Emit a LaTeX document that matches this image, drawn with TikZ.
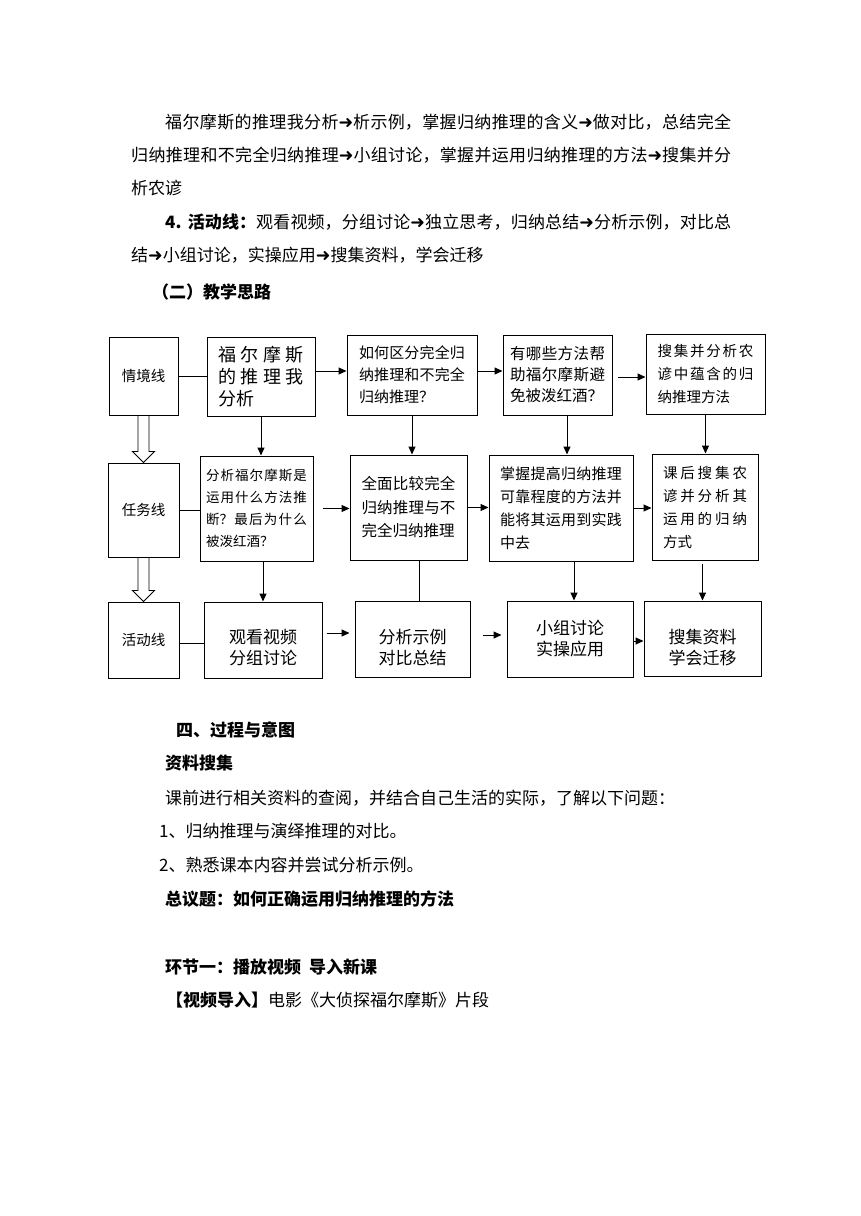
\documentclass[tikz,border=0pt]{standalone}
\usepackage{fontspec}
\setmainfont{Noto Sans CJK SC}
\newfontfamily\symfont{DejaVu Sans}
\usetikzlibrary{arrows.meta, calc}
\XeTeXlinebreaklocale "zh"
\XeTeXlinebreakskip = 0pt plus 1pt
\newcommand{\rarr}{{\symfont\fontsize{17.5}{17}\selectfont ➜}}
\newcommand{\bxfont}[2]{\fontsize{#1}{#2}\selectfont\XeTeXlinebreakskip=0pt plus 8pt\relax}
\newcommand{\jfont}{\fontsize{17}{20}\selectfont\parfillskip=0pt\relax}

\tikzset{
  box/.style={draw, line width=1pt, inner sep=0pt},
  para/.style={text width=#1, align=justify},
  txt/.style={anchor=base west, inner sep=0pt, font=\fontsize{17}{20}\selectfont},
  fullline/.style={txt, para=#1, font=\jfont},
  head/.style={txt, font=\fontsize{17}{20}\selectfont\bfseries},
  arr/.style={->, line width=1pt},
  link/.style={line width=1pt},
  hollow/.style={draw, line width=0.9pt}
}

\begin{document}
\begin{tikzpicture}[x=1pt, y=-1pt, >={Triangle[length=8pt,width=7pt]}]
  \useasboundingbox (0,0) rectangle (860,1216);
  \fill[white] (0,0) rectangle (860,1216);
  % Text above the chart
  \node[fullline=566pt] (l1) at (165,128.5) {\noindent 福尔摩斯的推理我分析\rarr 析示例，掌握归纳推理的含义\rarr 做对比，总结完全};
  \node[fullline=600pt] (l2) at (131,161.5) {\noindent 归纳推理和不完全归纳推理\rarr 小组讨论，掌握并运用归纳推理的方法\rarr 搜集并分};
  \node[txt] (l3) at (131,194.5) {析农谚};
  \node[fullline=566pt] (l4) at (165,228.5) {\noindent{\bfseries 4. 活动线：}观看视频，分组讨论\rarr 独立思考，归纳总结\rarr 分析示例，对比总};
  \node[txt] (l5) at (131,261.5) {结\rarr 小组讨论，实操应用\rarr 搜集资料，学会迁移};
  \node[head] (l6) at (152,298.5) {（二）教学思路};

  % Row 1: situation line
  \node[box, minimum width=69pt, minimum height=78pt, font=\fontsize{14.5}{18}\selectfont] (situ) at (143.5,376) {情境线};
  \node[box, minimum width=108pt, minimum height=79pt, para=86pt, font=\bxfont{18}{22}] (situ1) at (261,376.5) {福尔摩斯的推理我分析};
  \node[box, minimum width=130pt, minimum height=80pt, para=106pt, font=\bxfont{15}{22}] (situ2) at (412,375) {如何区分完全归纳推理和不完全归纳推理？};
  \node[box, minimum width=109pt, minimum height=80pt, para=95pt, font=\bxfont{15.5}{21}] (situ3) at (557.5,375) {有哪些方法帮助福尔摩斯避免被泼红酒？};
  \node[box, minimum width=119pt, minimum height=80pt, para=96pt, font=\bxfont{14.5}{23}] (situ4) at (705.5,374) {搜集并分析农谚中蕴含的归纳推理方法};

  % Row 2: task line
  \node[box, minimum width=71pt, minimum height=94pt, font=\fontsize{14.5}{18}\selectfont] (task) at (143.5,510) {任务线};
  \node[box, minimum width=113pt, minimum height=105pt, para=101pt, font=\bxfont{13.5}{22}] (task1) at (256.5,508.5) {分析福尔摩斯是运用什么方法推断？最后为什么被泼红酒？};
  \node[box, minimum width=117pt, minimum height=105pt, para=94pt, font=\bxfont{15.5}{23.5}] (task2) at (408.5,507.5) {全面比较完全归纳推理与不完全归纳推理};
  \node[box, minimum width=144pt, minimum height=106pt, para=122pt, font=\bxfont{15}{23}] (task3) at (561,508) {掌握提高归纳推理可靠程度的方法并能将其运用到实践中去};
  \node[box, minimum width=106pt, minimum height=106pt, para=84pt, font=\bxfont{14.5}{23}] (task4) at (705,507) {课后搜集农谚并分析其运用的归纳方式};

  % Row 3: activity line
  \node[box, minimum width=71pt, minimum height=76pt, font=\fontsize{14.5}{18}\selectfont] (act) at (143.5,640) {活动线};
  \node[box, minimum width=118pt, minimum height=76pt] (act1) at (263,640) {};
  \node[align=center, font=\fontsize{17}{21}\selectfont] (act1t) at ([yshift=-8pt]act1.center) {观看视频\\分组讨论};
  \node[box, minimum width=115pt, minimum height=76pt] (act2) at (412.5,639) {};
  \node[align=center, font=\fontsize{17}{21}\selectfont] (act2t) at ([yshift=-9pt]act2.center) {分析示例\\对比总结};
  \node[box, minimum width=126pt, minimum height=76pt, align=center, font=\fontsize{17}{21}\selectfont] (act3) at (570,639) {小组讨论\\实操应用};
  \node[box, minimum width=117pt, minimum height=75pt] (act4) at (702.5,638.5) {};
  \node[align=center, font=\fontsize{17}{21}\selectfont] (act4t) at ([yshift=-9pt]act4.center) {搜集资料\\学会迁移};

  % Horizontal links
  \draw[link] (situ.east) -- (situ.east -| situ1.west);
  \draw[arr] ([yshift=5.5pt]situ1.east) -- ([yshift=5.5pt]situ1.east -| situ2.west);
  \draw[arr] ([yshift=4pt]situ2.east) -- ([yshift=4pt]situ2.east -| situ3.west);
  \draw[arr] ([xshift=5pt,yshift=-2pt]situ3.east) -- ([yshift=-2pt]situ3.east -| situ4.west);
  \draw[link] (task.east) -- (task.east -| task1.west);
  \draw[arr] ([xshift=9pt]task1.east) -- (task1.east -| task2.west);
  \draw[arr] (task2.east) -- (task2.east -| task3.west);
  \draw[arr] (task3.east) -- (task3.east -| task4.west);
  \draw[link] ([yshift=-3pt]act.east) -- ([yshift=-3pt]act.east -| act1.west);
  \draw[arr] ([xshift=4pt,yshift=7pt]act1.east) -- ([xshift=-5pt,yshift=7pt]act1.east -| act2.west);
  \draw[arr] ([xshift=12pt,yshift=4pt]act2.east) -- ([xshift=-5pt,yshift=4pt]act2.east -| act3.west);
  \draw[arr] ([yshift=-2pt]act3.east) -- ([yshift=-2pt]act3.east -| act4.west);

  % Vertical links
  \draw[arr] (situ1.south) -- (situ1.south |- task1.north);
  \draw[arr] (situ2.south) -- (situ2.south |- task2.north);
  \draw[arr] ([xshift=9.5pt]situ3.south) -- ([xshift=9.5pt]situ3.south |- task3.north);
  \draw[arr] (situ4.south) -- (situ4.south |- task4.north);
  \draw[arr] (act1.north |- task1.south) -- (act1.north);
  \draw[link] ([xshift=10.5pt]task2.south) -- ([xshift=10.5pt]task2.south |- act2.north);
  \draw[arr] ([xshift=4pt]act3.north |- task3.south) -- ([xshift=4pt]act3.north);
  \draw[arr] ([yshift=-3pt]act4.north |- task4.south) -- (act4.north);

  % Hollow block arrows between the line labels
  \draw[hollow] ([xshift=-5.5pt]situ.south) -- ([xshift=-5.5pt,yshift=11pt]situ.south |- task.north)
    -- ([xshift=-11pt,yshift=11pt]situ.south |- task.north) -- (situ.south |- task.north)
    -- ([xshift=11pt,yshift=11pt]situ.south |- task.north) -- ([xshift=5.5pt,yshift=11pt]situ.south |- task.north)
    -- ([xshift=5.5pt]situ.south);
  \draw[hollow] ([xshift=-5.5pt]task.south) -- ([xshift=-5.5pt,yshift=11pt]task.south |- act.north)
    -- ([xshift=-11pt,yshift=11pt]task.south |- act.north) -- (task.south |- act.north)
    -- ([xshift=11pt,yshift=11pt]task.south |- act.north) -- ([xshift=5.5pt,yshift=11pt]task.south |- act.north)
    -- ([xshift=5.5pt]task.south);

  % Text below the chart
  \node[head] (h1) at (176,736.5) {四、过程与意图};
  \node[head] (h2) at (165,769.5) {资料搜集};
  \node[txt] (t1) at (165,804.5) {课前进行相关资料的查阅，并结合自己生活的实际，了解以下问题：};
  \node[txt] (t2) at (159,837.5) {1、归纳推理与演绎推理的对比。};
  \node[txt] (t3) at (159,871.5) {2、熟悉课本内容并尝试分析示例。};
  \node[head] (h3) at (165,905.5) {总议题：如何正确运用归纳推理的方法};
  \node[head] (h4) at (165,973.5) {环节一：播放视频\hspace{8pt}导入新课};
  \node[txt] (t4) at (166,1006.5) {{\bfseries 【视频导入】}电影《大侦探福尔摩斯》片段};
\end{tikzpicture}
\end{document}
